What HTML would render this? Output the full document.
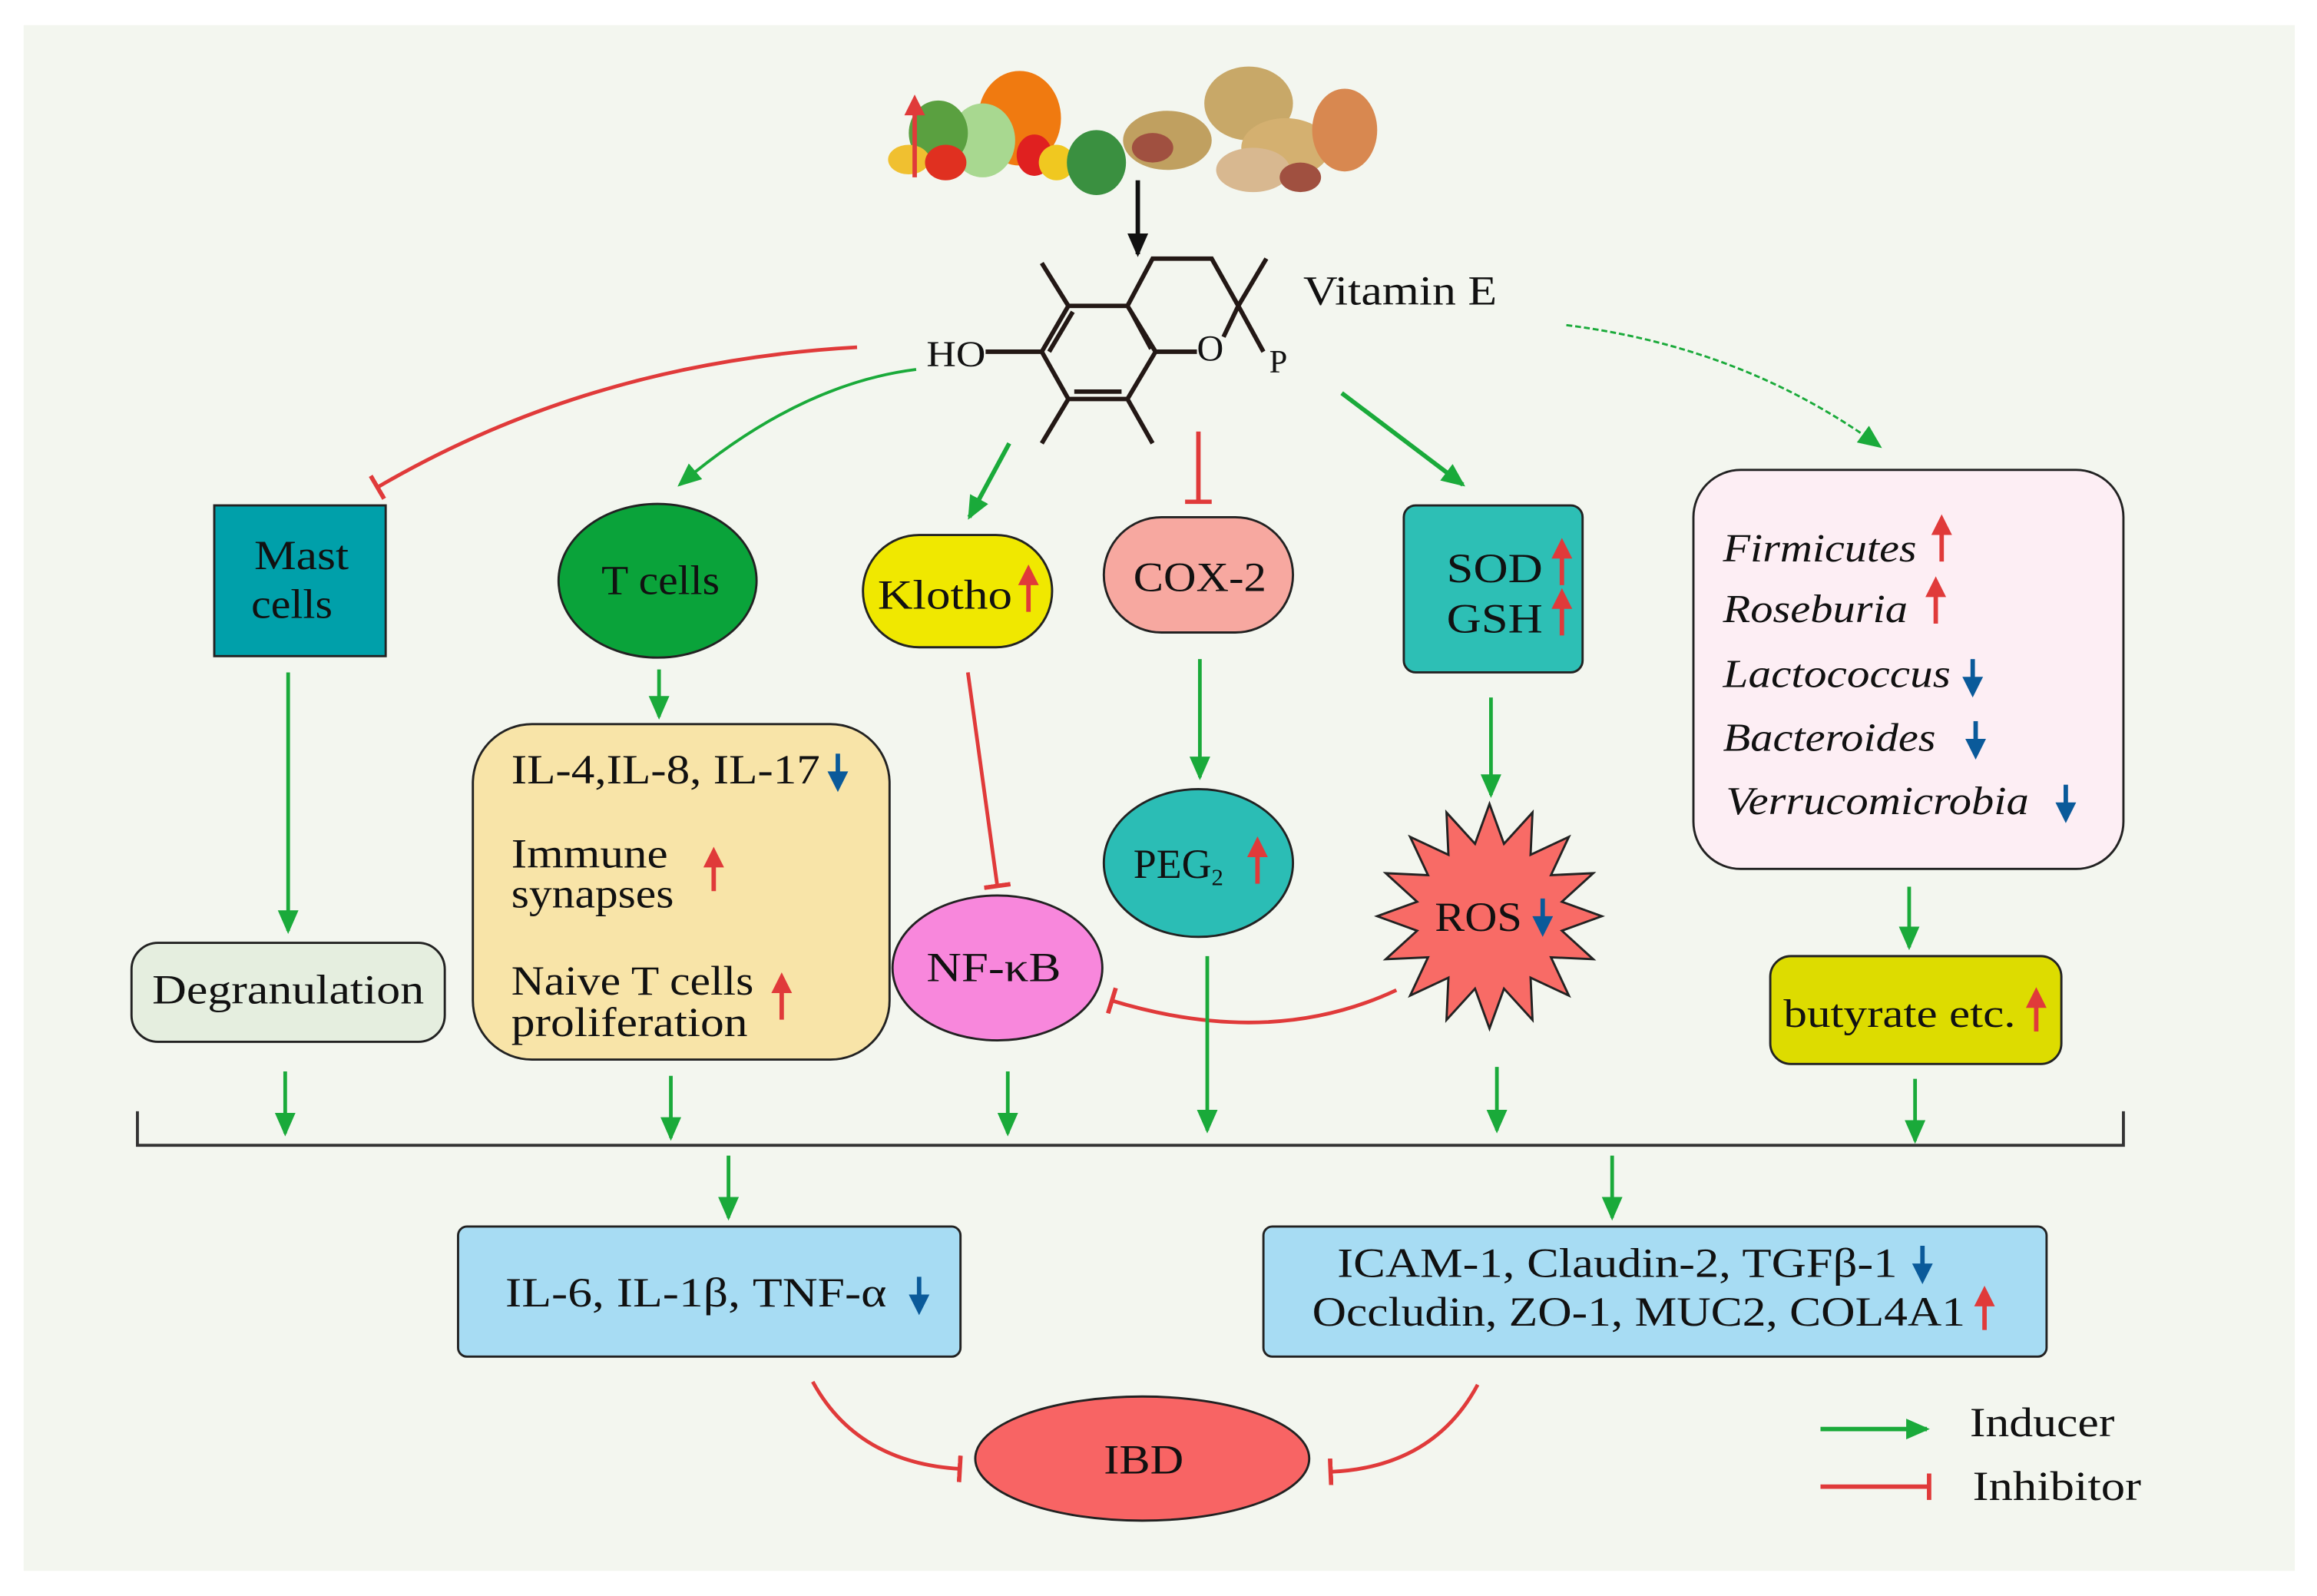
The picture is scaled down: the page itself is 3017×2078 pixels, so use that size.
<!DOCTYPE html>
<html><head><meta charset="utf-8"><style>
html,body{margin:0;padding:0;background:#fff;}
svg{display:block;}
text{font-family:"Liberation Serif",serif;fill:#111;}
</style></head><body>
<svg width="3017" height="2078" viewBox="0 0 1568 1080" preserveAspectRatio="none" xmlns="http://www.w3.org/2000/svg">
<defs>
<marker id="gb" markerWidth="16" markerHeight="14" refX="14" refY="7" orient="auto" markerUnits="userSpaceOnUse"><path d="M0,0 L16,7 L0,14 z" fill="#1aaa3a"/></marker>
<marker id="k" markerWidth="16" markerHeight="14" refX="14" refY="7" orient="auto" markerUnits="userSpaceOnUse"><path d="M0,0 L16,7 L0,14 z" fill="#111"/></marker>
<marker id="t" markerWidth="4" markerHeight="18" refX="2" refY="9" orient="auto" markerUnits="userSpaceOnUse"><rect x="0" y="0" width="3" height="18" fill="#e03a3a"/></marker>
</defs>
<rect x="0" y="0" width="1568" height="1080" fill="#fff"/>
<rect x="16" y="17" width="1537" height="1046" fill="#f3f6ef"/>

<!-- food -->
<g>
<ellipse cx="690" cy="80" rx="28" ry="32" fill="#f07a10"/>
<ellipse cx="665" cy="95" rx="22" ry="25" fill="#a8d890"/>
<ellipse cx="635" cy="90" rx="20" ry="22" fill="#5aa040"/>
<ellipse cx="615" cy="108" rx="14" ry="10" fill="#f0c030"/>
<ellipse cx="640" cy="110" rx="14" ry="12" fill="#e03020"/>
<ellipse cx="700" cy="105" rx="12" ry="14" fill="#e02020"/>
<ellipse cx="715" cy="110" rx="12" ry="12" fill="#f0c820"/>
<ellipse cx="742" cy="110" rx="20" ry="22" fill="#3a9040"/>
<ellipse cx="790" cy="95" rx="30" ry="20" fill="#c0a060"/>
<ellipse cx="845" cy="70" rx="30" ry="25" fill="#c8a868"/>
<ellipse cx="870" cy="100" rx="30" ry="20" fill="#d4b070"/>
<ellipse cx="848" cy="115" rx="25" ry="15" fill="#d8b890"/>
<ellipse cx="910" cy="88" rx="22" ry="28" fill="#d88850"/>
<ellipse cx="780" cy="100" rx="14" ry="10" fill="#a05040"/>
<ellipse cx="880" cy="120" rx="14" ry="10" fill="#a05040"/>
<line x1="619" y1="120" x2="619" y2="72" stroke="#e03a3a" stroke-width="3"/>
<path d="M612,78 L619,64 L626,78 z" fill="#e03a3a"/>
</g>
<line x1="770" y1="122" x2="770" y2="172" stroke="#111" stroke-width="3" marker-end="url(#k)"/>

<!-- molecule -->
<g stroke="#231815" stroke-width="3" fill="none">
<path d="M705,238 L723,207 L763,207 L782,238 L763,270 L723,270 Z"/>
<path d="M710,238 L726,211 M727,265 L759,265 M766,212 L779,236"/>
<line x1="667" y1="238" x2="705" y2="238"/>
<line x1="723" y1="207" x2="705" y2="178"/>
<line x1="723" y1="270" x2="705" y2="300"/>
<line x1="763" y1="270" x2="780" y2="300"/>
<path d="M763,207 L780,175 L820,175 L838,207 L828,228"/>
<line x1="782" y1="238" x2="810" y2="238"/>
<line x1="838" y1="207" x2="857" y2="175"/>
<line x1="838" y1="207" x2="855" y2="238"/>
</g>
<text x="627" y="248" font-size="25" textLength="40" lengthAdjust="spacingAndGlyphs">HO</text>
<text x="810" y="244" font-size="25">O</text>
<text x="859" y="252" font-size="22">P</text>
<text x="882" y="206" font-size="28" textLength="131" lengthAdjust="spacingAndGlyphs">Vitamin E</text>

<!-- top connectors -->
<path d="M580,235 Q400,245 255,330" stroke="#e03a3a" stroke-width="2.5" fill="none" marker-end="url(#t)"/>
<path d="M620,250 Q540,260 460,328" stroke="#1aaa3a" stroke-width="2" fill="none" marker-end="url(#gb)"/>
<line x1="683" y1="300" x2="656" y2="350" stroke="#1aaa3a" stroke-width="3" marker-end="url(#gb)"/>
<line x1="811" y1="292" x2="811" y2="340" stroke="#e03a3a" stroke-width="3" marker-end="url(#t)"/>
<line x1="908" y1="266" x2="990" y2="328" stroke="#1aaa3a" stroke-width="3" marker-end="url(#gb)"/>
<path d="M1060,220 Q1180,235 1272,302" stroke="#1aaa3a" stroke-width="1.5" fill="none" stroke-dasharray="4 2" marker-end="url(#gb)"/>

<!-- nodes -->
<rect x="145" y="342" width="116" height="102" fill="#00a0aa" stroke="#222" stroke-width="1.5"/>
<text x="172" y="385" font-size="28" textLength="64" lengthAdjust="spacingAndGlyphs">Mast</text>
<text x="170" y="418" font-size="28" textLength="55" lengthAdjust="spacingAndGlyphs">cells</text>

<ellipse cx="445" cy="393" rx="67" ry="52" fill="#0aa33a" stroke="#222" stroke-width="1.5"/>
<text x="407" y="402" font-size="28" textLength="80" lengthAdjust="spacingAndGlyphs">T cells</text>

<rect x="584" y="362" width="128" height="76" rx="38" fill="#f0e800" stroke="#222" stroke-width="1.5"/>
<text x="594" y="412" font-size="28" textLength="91" lengthAdjust="spacingAndGlyphs">Klotho</text>
<line x1="696" y1="414" x2="696" y2="392" stroke="#e03a3a" stroke-width="3"/><path d="M689,396 L696,382 L703,396z" fill="#e03a3a"/>

<rect x="747" y="350" width="128" height="78" rx="39" fill="#f7a8a0" stroke="#222" stroke-width="1.5"/>
<text x="767" y="400" font-size="28" textLength="90" lengthAdjust="spacingAndGlyphs">COX-2</text>

<rect x="950" y="342" width="121" height="113" rx="8" fill="#2dbfb5" stroke="#222" stroke-width="1.5"/>
<text x="979" y="394" font-size="28" textLength="65" lengthAdjust="spacingAndGlyphs">SOD</text>
<text x="979" y="428" font-size="28" textLength="65" lengthAdjust="spacingAndGlyphs">GSH</text>
<line x1="1057" y1="396" x2="1057" y2="374" stroke="#e03a3a" stroke-width="3"/><path d="M1050,378 L1057,364 L1064,378z" fill="#e03a3a"/>
<line x1="1057" y1="430" x2="1057" y2="408" stroke="#e03a3a" stroke-width="3"/><path d="M1050,412 L1057,398 L1064,412z" fill="#e03a3a"/>

<rect x="1146" y="318" width="291" height="270" rx="32" fill="#fdeef4" stroke="#222" stroke-width="1.5"/>
<g font-style="italic" font-size="27">
<text x="1166" y="380" textLength="131" lengthAdjust="spacingAndGlyphs">Firmicutes</text>
<text x="1166" y="421" textLength="125" lengthAdjust="spacingAndGlyphs">Roseburia</text>
<text x="1166" y="465" textLength="154" lengthAdjust="spacingAndGlyphs">Lactococcus</text>
<text x="1166" y="508" textLength="144" lengthAdjust="spacingAndGlyphs">Bacteroides</text>
<text x="1168" y="551" textLength="205" lengthAdjust="spacingAndGlyphs">Verrucomicrobia</text>
</g>
<line x1="1314" y1="380" x2="1314" y2="358" stroke="#e03a3a" stroke-width="3"/><path d="M1307,362 L1314,348 L1321,362z" fill="#e03a3a"/>
<line x1="1310" y1="422" x2="1310" y2="400" stroke="#e03a3a" stroke-width="3"/><path d="M1303,404 L1310,390 L1317,404z" fill="#e03a3a"/>
<line x1="1335" y1="446" x2="1335" y2="462" stroke="#0a5a9a" stroke-width="3"/><path d="M1328,458 L1335,472 L1342,458z" fill="#0a5a9a"/>
<line x1="1337" y1="488" x2="1337" y2="504" stroke="#0a5a9a" stroke-width="3"/><path d="M1330,500 L1337,514 L1344,500z" fill="#0a5a9a"/>
<line x1="1398" y1="531" x2="1398" y2="547" stroke="#0a5a9a" stroke-width="3"/><path d="M1391,543 L1398,557 L1405,543z" fill="#0a5a9a"/>

<!-- second row connectors -->
<line x1="195" y1="455" x2="195" y2="630" stroke="#1aaa3a" stroke-width="2.5" marker-end="url(#gb)"/>
<line x1="446" y1="453" x2="446" y2="485" stroke="#1aaa3a" stroke-width="2.5" marker-end="url(#gb)"/>
<line x1="655" y1="455" x2="675" y2="600" stroke="#e03a3a" stroke-width="2.5" marker-end="url(#t)"/>
<line x1="812" y1="446" x2="812" y2="526" stroke="#1aaa3a" stroke-width="2.5" marker-end="url(#gb)"/>
<line x1="1009" y1="472" x2="1009" y2="538" stroke="#1aaa3a" stroke-width="2.5" marker-end="url(#gb)"/>
<line x1="1292" y1="600" x2="1292" y2="641" stroke="#1aaa3a" stroke-width="2.5" marker-end="url(#gb)"/>

<rect x="89" y="638" width="212" height="67" rx="18" fill="#e5eedf" stroke="#222" stroke-width="1.5"/>
<text x="103" y="679" font-size="28" textLength="184" lengthAdjust="spacingAndGlyphs">Degranulation</text>

<rect x="320" y="490" width="282" height="227" rx="40" fill="#f8e4a8" stroke="#222" stroke-width="1.5"/>
<text x="346" y="530" font-size="28" textLength="209" lengthAdjust="spacingAndGlyphs">IL-4,IL-8, IL-17</text>
<line x1="567" y1="510" x2="567" y2="526" stroke="#0a5a9a" stroke-width="3"/><path d="M560,522 L567,536 L574,522z" fill="#0a5a9a"/>
<text x="346" y="587" font-size="28" textLength="106" lengthAdjust="spacingAndGlyphs">Immune</text>
<text x="346" y="614" font-size="28" textLength="110" lengthAdjust="spacingAndGlyphs">synapses</text>
<line x1="483" y1="603" x2="483" y2="583" stroke="#e03a3a" stroke-width="3"/><path d="M476,587 L483,573 L490,587z" fill="#e03a3a"/>
<text x="346" y="673" font-size="28" textLength="164" lengthAdjust="spacingAndGlyphs">Naive T cells</text>
<text x="346" y="701" font-size="28" textLength="160" lengthAdjust="spacingAndGlyphs">proliferation</text>
<line x1="529" y1="690" x2="529" y2="668" stroke="#e03a3a" stroke-width="3"/><path d="M522,672 L529,658 L536,672z" fill="#e03a3a"/>

<ellipse cx="675" cy="655" rx="71" ry="49" fill="#f887dc" stroke="#222" stroke-width="1.5"/>
<text x="627" y="664" font-size="28" textLength="91" lengthAdjust="spacingAndGlyphs">NF-κB</text>

<ellipse cx="811" cy="584" rx="64" ry="50" fill="#2bbdb5" stroke="#222" stroke-width="1.5"/>
<text x="767" y="594" font-size="28">PEG<tspan font-size="16" dy="5">2</tspan></text>
<line x1="851" y1="598" x2="851" y2="576" stroke="#e03a3a" stroke-width="3"/><path d="M844,580 L851,566 L858,580z" fill="#e03a3a"/>

<polygon points="1084,620 1057,629.8 1078.2,649.1 1049.6,647.8 1061.7,673.7 1035.8,661.6 1037.1,690.2 1017.8,669 1008,696 998.2,669 978.9,690.2 980.2,661.6 954.3,673.7 966.4,647.8 937.8,649.1 959,629.8 932,620 959,610.2 937.8,590.9 966.4,592.2 954.3,566.3 980.2,578.4 978.9,549.8 998.2,571 1008,544 1017.8,571 1037.1,549.8 1035.8,578.4 1061.7,566.3 1049.6,592.2 1078.2,590.9 1057,610.2" fill="#f86b66" stroke="#222" stroke-width="1.5"/>
<text x="971" y="630" font-size="28" textLength="59" lengthAdjust="spacingAndGlyphs">ROS</text>
<line x1="1044" y1="608" x2="1044" y2="624" stroke="#0a5a9a" stroke-width="3"/><path d="M1037,620 L1044,634 L1051,620z" fill="#0a5a9a"/>

<path d="M945,670 Q860,710 752,677" stroke="#e03a3a" stroke-width="2.5" fill="none" marker-end="url(#t)"/>

<rect x="1198" y="647" width="197" height="73" rx="14" fill="#dddc00" stroke="#222" stroke-width="1.5"/>
<text x="1207" y="695" font-size="27" textLength="157" lengthAdjust="spacingAndGlyphs">butyrate etc.</text>
<line x1="1378" y1="698" x2="1378" y2="678" stroke="#e03a3a" stroke-width="3"/><path d="M1371,682 L1378,668 L1385,682z" fill="#e03a3a"/>

<!-- bracket arrows -->
<g stroke="#1aaa3a" stroke-width="2.5">
<line x1="193" y1="725" x2="193" y2="767" marker-end="url(#gb)"/>
<line x1="454" y1="728" x2="454" y2="770" marker-end="url(#gb)"/>
<line x1="682" y1="725" x2="682" y2="767" marker-end="url(#gb)"/>
<line x1="817" y1="647" x2="817" y2="765" marker-end="url(#gb)"/>
<line x1="1013" y1="722" x2="1013" y2="765" marker-end="url(#gb)"/>
<line x1="1296" y1="730" x2="1296" y2="772" marker-end="url(#gb)"/>
<line x1="493" y1="782" x2="493" y2="824" marker-end="url(#gb)"/>
<line x1="1091" y1="782" x2="1091" y2="824" marker-end="url(#gb)"/>
</g>
<path d="M93,752 L93,775 L1437,775 L1437,752" stroke="#333" stroke-width="2" fill="none"/>

<rect x="310" y="830" width="340" height="88" rx="6" fill="#a7dcf3" stroke="#222" stroke-width="1.5"/>
<text x="342" y="884" font-size="28" textLength="258" lengthAdjust="spacingAndGlyphs">IL-6, IL-1β, TNF-α</text>
<line x1="622" y1="864" x2="622" y2="880" stroke="#0a5a9a" stroke-width="3"/><path d="M615,876 L622,890 L629,876z" fill="#0a5a9a"/>

<rect x="855" y="830" width="530" height="88" rx="6" fill="#a7dcf3" stroke="#222" stroke-width="1.5"/>
<text x="905" y="864" font-size="28" textLength="379" lengthAdjust="spacingAndGlyphs">ICAM-1, Claudin-2, TGFβ-1</text>
<line x1="1301" y1="843" x2="1301" y2="859" stroke="#0a5a9a" stroke-width="3"/><path d="M1294,855 L1301,869 L1308,855z" fill="#0a5a9a"/>
<text x="888" y="897" font-size="28" textLength="442" lengthAdjust="spacingAndGlyphs">Occludin, ZO-1, MUC2, COL4A1</text>
<line x1="1343" y1="900" x2="1343" y2="880" stroke="#e03a3a" stroke-width="3"/><path d="M1336,884 L1343,870 L1350,884z" fill="#e03a3a"/>

<ellipse cx="773" cy="987" rx="113" ry="42" fill="#f86464" stroke="#222" stroke-width="1.5"/>
<text x="747" y="997" font-size="28" textLength="54" lengthAdjust="spacingAndGlyphs">IBD</text>

<path d="M550,935 Q580,990 650,994" stroke="#e03a3a" stroke-width="2.5" fill="none" marker-end="url(#t)"/>
<path d="M1000,937 Q970,993 900,996" stroke="#e03a3a" stroke-width="2.5" fill="none" marker-end="url(#t)"/>

<!-- legend -->
<line x1="1232" y1="967" x2="1304" y2="967" stroke="#1aaa3a" stroke-width="3" marker-end="url(#gb)"/>
<text x="1333" y="972" font-size="28" textLength="98" lengthAdjust="spacingAndGlyphs">Inducer</text>
<line x1="1232" y1="1006" x2="1306" y2="1006" stroke="#e03a3a" stroke-width="3" marker-end="url(#t)"/>
<text x="1335" y="1015" font-size="28" textLength="114" lengthAdjust="spacingAndGlyphs">Inhibitor</text>
</svg>
</body></html>
